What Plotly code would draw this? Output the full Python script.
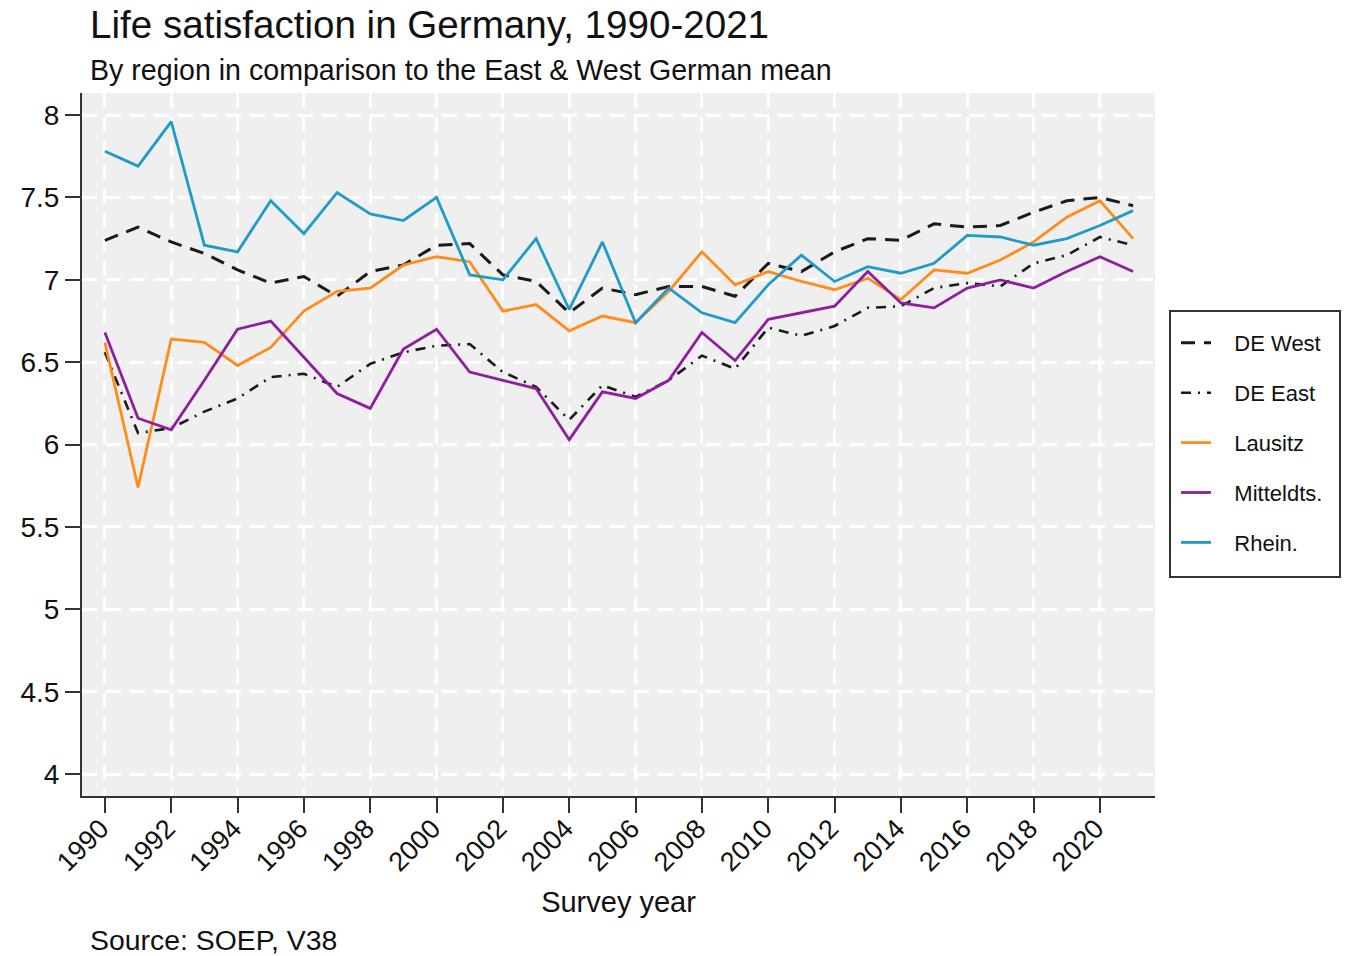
import plotly.graph_objects as go

years = list(range(1990, 2022))

de_west = [7.24, 7.32, 7.23, 7.16, 7.06, 6.98, 7.02, 6.90, 7.05, 7.09, 7.21,
           7.22, 7.03, 6.99, 6.80, 6.95, 6.91, 6.96, 6.96, 6.90, 7.10,
           7.05, 7.17, 7.25, 7.24, 7.34, 7.32, 7.33, 7.41, 7.48, 7.50, 7.45]
de_east = [6.56, 6.07, 6.10, 6.20, 6.28, 6.41, 6.43, 6.35, 6.49, 6.56, 6.60,
           6.61, 6.44, 6.35, 6.15, 6.36, 6.29, 6.39, 6.54, 6.46, 6.71,
           6.66, 6.72, 6.83, 6.84, 6.95, 6.98, 6.96, 7.10, 7.15, 7.26, 7.21]
lausitz = [6.62, 5.74, 6.64, 6.62, 6.48, 6.59, 6.81, 6.93, 6.95, 7.09, 7.14,
           7.11, 6.81, 6.85, 6.69, 6.78, 6.74, 6.93, 7.17, 6.97, 7.05,
           6.99, 6.94, 7.01, 6.88, 7.06, 7.04, 7.12, 7.23, 7.38, 7.48, 7.25]
mitteldts = [6.68, 6.16, 6.09, 6.39, 6.70, 6.75, 6.53, 6.31, 6.22, 6.58, 6.70,
             6.44, 6.39, 6.34, 6.03, 6.32, 6.28, 6.39, 6.68, 6.51, 6.76,
             6.80, 6.84, 7.05, 6.86, 6.83, 6.95, 7.00, 6.95, 7.05, 7.14, 7.05]
rhein = [7.78, 7.69, 7.96, 7.21, 7.17, 7.48, 7.28, 7.53, 7.40, 7.36, 7.50,
         7.03, 7.00, 7.25, 6.82, 7.23, 6.74, 6.95, 6.80, 6.74, 6.97,
         7.15, 6.99, 7.08, 7.04, 7.10, 7.27, 7.26, 7.21, 7.25, 7.33, 7.42]

x_ticks = list(range(1990, 2021, 2))
y_ticks = [4, 4.5, 5, 5.5, 6, 6.5, 7, 7.5, 8]
y_tick_labels = ["4", "4.5", "5", "5.5", "6", "6.5", "7", "7.5", "8"]

series = [
    ("DE West", de_west, "#1a1a1a", "14px,9px", 3),
    ("DE East", de_east, "#1a1a1a", "10px,7px,2px,7px", 2.6),
    ("Lausitz", lausitz, "#ff8c1a", "solid", 2.8),
    ("Mitteldts.", mitteldts, "#8e1e9e", "solid", 2.8),
    ("Rhein.", rhein, "#1f9bc9", "solid", 2.8),
]

FONT = "Liberation Sans, Arial, sans-serif"
PAD = "\u00a0\u00a0\u00a0"

fig = go.Figure()
for name, vals, color, dash, w in series:
    fig.add_trace(go.Scatter(
        x=years, y=vals, mode="lines", name=PAD + name, legendgroup=name,
        line=dict(color=color, width=w, dash=dash),
    ))

W, H = 1350, 956
L, R, T, B = 82, 195, 93, 160
PW, PH = W - L - R, H - T - B


def px_x(px):
    return (px - L) / PW


def px_y(py):
    return (H - B - py) / PH


fig.update_layout(
    width=W, height=H,
    margin=dict(l=L, r=R, t=T, b=B),
    paper_bgcolor="white",
    plot_bgcolor="#efefef",
    font=dict(family=FONT, size=28, color="#111"),
    showlegend=True,
    legend=dict(
        x=px_x(1176), y=px_y(322), xanchor="left", yanchor="top",
        bgcolor="rgba(0,0,0,0)", borderwidth=0,
        font=dict(family=FONT, size=22, color="#111"),
        tracegroupgap=18.3,
        itemwidth=30,
    ),
    shapes=[
        dict(type="rect", xref="paper", yref="paper",
             x0=px_x(1170), x1=px_x(1340), y0=px_y(577), y1=px_y(311),
             line=dict(color="#333", width=2), fillcolor="white", layer="below"),
    ],
    xaxis=dict(
        range=[1989.31, 2021.66],
        tickmode="array", tickvals=x_ticks, ticktext=[str(v) for v in x_ticks],
        tickangle=-45,
        ticks="outside", ticklen=15, tickwidth=2, tickcolor="#333",
        ticklabelstandoff=-11, ticklabelshift=-4,
        showline=True, linecolor="#333", linewidth=2,
        showgrid=True, gridcolor="white", gridwidth=2.5, griddash="15px,9px",
        zeroline=False,
        title=dict(text="Survey year", font=dict(size=29), standoff=16),
        tickfont=dict(size=27),
    ),
    yaxis=dict(
        range=[3.867, 8.134],
        tickmode="array", tickvals=y_ticks, ticktext=y_tick_labels,
        ticks="outside", ticklen=15, tickwidth=2, tickcolor="#333",
        showline=True, linecolor="#333", linewidth=2,
        showgrid=True, gridcolor="white", gridwidth=2.5, griddash="15px,9px",
        zeroline=False,
        tickfont=dict(size=28),
    ),
    annotations=[
        dict(text="Life satisfaction in Germany, 1990-2021", xref="paper", yref="paper",
             x=px_x(88), y=px_y(24),
             xanchor="left", yanchor="middle", showarrow=False,
             font=dict(family=FONT, size=38.6, color="#111")),
        dict(text="By region in comparison to the East & West German mean", xref="paper", yref="paper",
             x=px_x(88), y=px_y(70),
             xanchor="left", yanchor="middle", showarrow=False,
             font=dict(family=FONT, size=28.6, color="#111")),
        dict(text="Source: SOEP, V38", xref="paper", yref="paper",
             x=px_x(88), y=px_y(940),
             xanchor="left", yanchor="middle", showarrow=False,
             font=dict(family=FONT, size=28.4, color="#111")),
    ],
)

fig.write_html("out.html", config={"displayModeBar": False},
               post_script="document.body.style.margin='0';document.body.style.overflow='hidden';")
